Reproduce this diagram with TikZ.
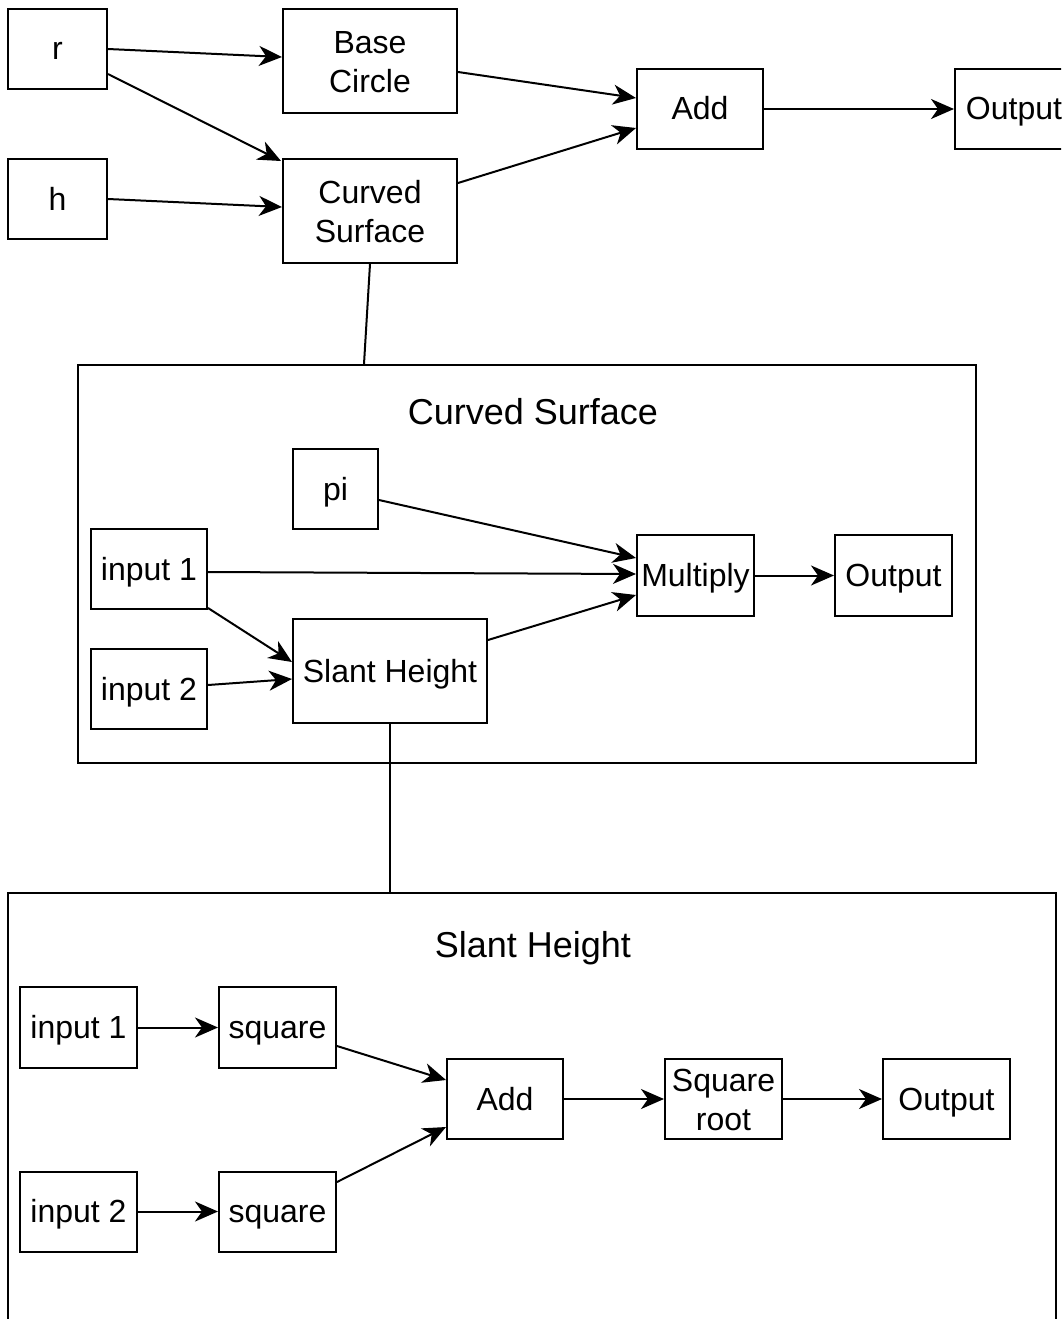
\documentclass[tikz,border=0pt]{standalone}
\usepackage{fontspec}
\setmainfont{Liberation Sans}
\usetikzlibrary{arrows.meta,calc}

% line strut: keeps the text of every box at the same height
\newcommand{\boxstrut}{\rule[-8pt]{0pt}{38pt}}

\tikzset{
  boxfont/.style={inner sep=0pt, align=center,
    font=\fontsize{32}{39}\selectfont,
    execute at begin node=\boxstrut, execute at end node=\boxstrut},
  box/.style={draw, line width=2pt, boxfont},
  % two-line box text sits slightly lower
  twotext/.style={boxfont, yshift=-4.5pt},
  frame/.style={draw, line width=2pt, inner sep=0pt},
  title/.style={inner sep=0pt, font=\fontsize{36}{42}\selectfont},
  flow/.style={line width=2pt, -{Stealth[length=23pt, width=20pt, inset=7pt]}},
  link/.style={line width=2pt},
}

\begin{document}
\begin{tikzpicture}[x=1pt, y=-1pt]
\clip (0,0) rectangle (1061,1319);
\fill[white] (0,0) rectangle (1061,1319);

% ---------- top level: surface area ----------
\node[box, minimum width=99, minimum height=80]  (r)      at (57.5,49)  {r};
\node[box, minimum width=99, minimum height=80]  (h)      at (57.5,199) {h};
\node[box, minimum width=174, minimum height=104,
      label={[twotext]center:{Base\\Circle}}] (base)  at (370,61) {};
\node[box, minimum width=174, minimum height=104,
      label={[twotext]center:{Curved\\Surface}}] (curved) at (370,211) {};
\node[box, minimum width=126, minimum height=80] (addA)   at (700,109)  {Add};
\node[box, minimum width=118, minimum height=80] (outA)   at (1014,109) {Output};

\draw[flow] (r.east) -- ($(base.west)+(0,-4)$);
\draw[flow] ($(r.east)+(0,25)$) -- ($(curved.north west)+(-1,3)$);
\draw[flow] (h.east) -- ($(curved.west)+(0,-4)$);
\draw[flow] ($(base.east)+(0,11)$) -- ($(addA.west)+(0,-11)$);
\draw[flow] ($(curved.east)+(0,-28)$) -- ($(addA.west)+(0,19)$);
\draw[flow] (addA.east) -- (outA.west);

% ---------- curved surface detail ----------
\node[frame, minimum width=898, minimum height=398] (csbox) at (527,564) {};
\node[title] (cstitle) at (533,412) {Curved Surface};
\node[box, minimum width=85, minimum height=80]   (pi)    at (335.5,489) {pi};
\node[box, minimum width=116, minimum height=80]  (inA)   at (149,569)   {input 1};
\node[box, minimum width=116, minimum height=80]  (inB)   at (149,689)   {input 2};
\node[box, minimum width=194, minimum height=104] (slant) at (390,671)   {Slant Height};
\node[box, minimum width=117, minimum height=81]  (mult)  at (695.5,575.5) {Multiply};
\node[box, minimum width=117, minimum height=81]  (outB)  at (893.5,575.5) {Output};

\draw[link] (curved.south) -- ($(csbox.north west)+(287,0)$);
\draw[flow] ($(pi.east)+(0,11)$) -- ($(mult.west)+(0,-17.5)$);
\draw[flow] ($(inA.east)+(0,3)$) -- ($(mult.west)+(0,-1.5)$);
\draw[flow] ($(inA.east)+(0,39)$) -- ($(slant.west)+(0,-9)$);
\draw[flow] ($(inB.east)+(0,-4)$) -- ($(slant.west)+(0,8)$);
\draw[flow] ($(slant.east)+(0,-31)$) -- ($(mult.west)+(0,19.5)$);
\draw[flow] (mult.east) -- (outB.west);

% ---------- slant height detail ----------
\node[frame, minimum width=1048, minimum height=442] (shbox) at (532,1114) {};
\node[title] (shtitle) at (533,948) {Slant Height};
\node[box, minimum width=117, minimum height=81] (inC)  at (78.5,1027.5)  {input 1};
\node[box, minimum width=117, minimum height=81] (sqA)  at (277.5,1027.5) {square};
\node[box, minimum width=117, minimum height=80] (inD)  at (78.5,1211.5)  {input 2};
\node[box, minimum width=117, minimum height=80] (sqB)  at (277.5,1211.5) {square};
\node[box, minimum width=116, minimum height=80] (addB) at (505,1099)    {Add};
\node[box, minimum width=117, minimum height=80,
      label={[twotext]center:{Square\\root}}] (sqrt) at (723.5,1099) {};
\node[box, minimum width=127, minimum height=80] (outC) at (946.5,1099)  {Output};

\draw[link] (slant.south) -- (slant.south |- shbox.north);
\draw[flow] (inC.east) -- (sqA.west);
\draw[flow] (inD.east) -- (sqB.west);
\draw[flow] ($(sqA.east)+(0,18.5)$) -- ($(addB.west)+(0,-19)$);
\draw[flow] ($(sqB.east)+(0,-29.5)$) -- ($(addB.west)+(0,28)$);
\draw[flow] (addB.east) -- (sqrt.west);
\draw[flow] (sqrt.east) -- (outC.west);
\end{tikzpicture}
\end{document}
